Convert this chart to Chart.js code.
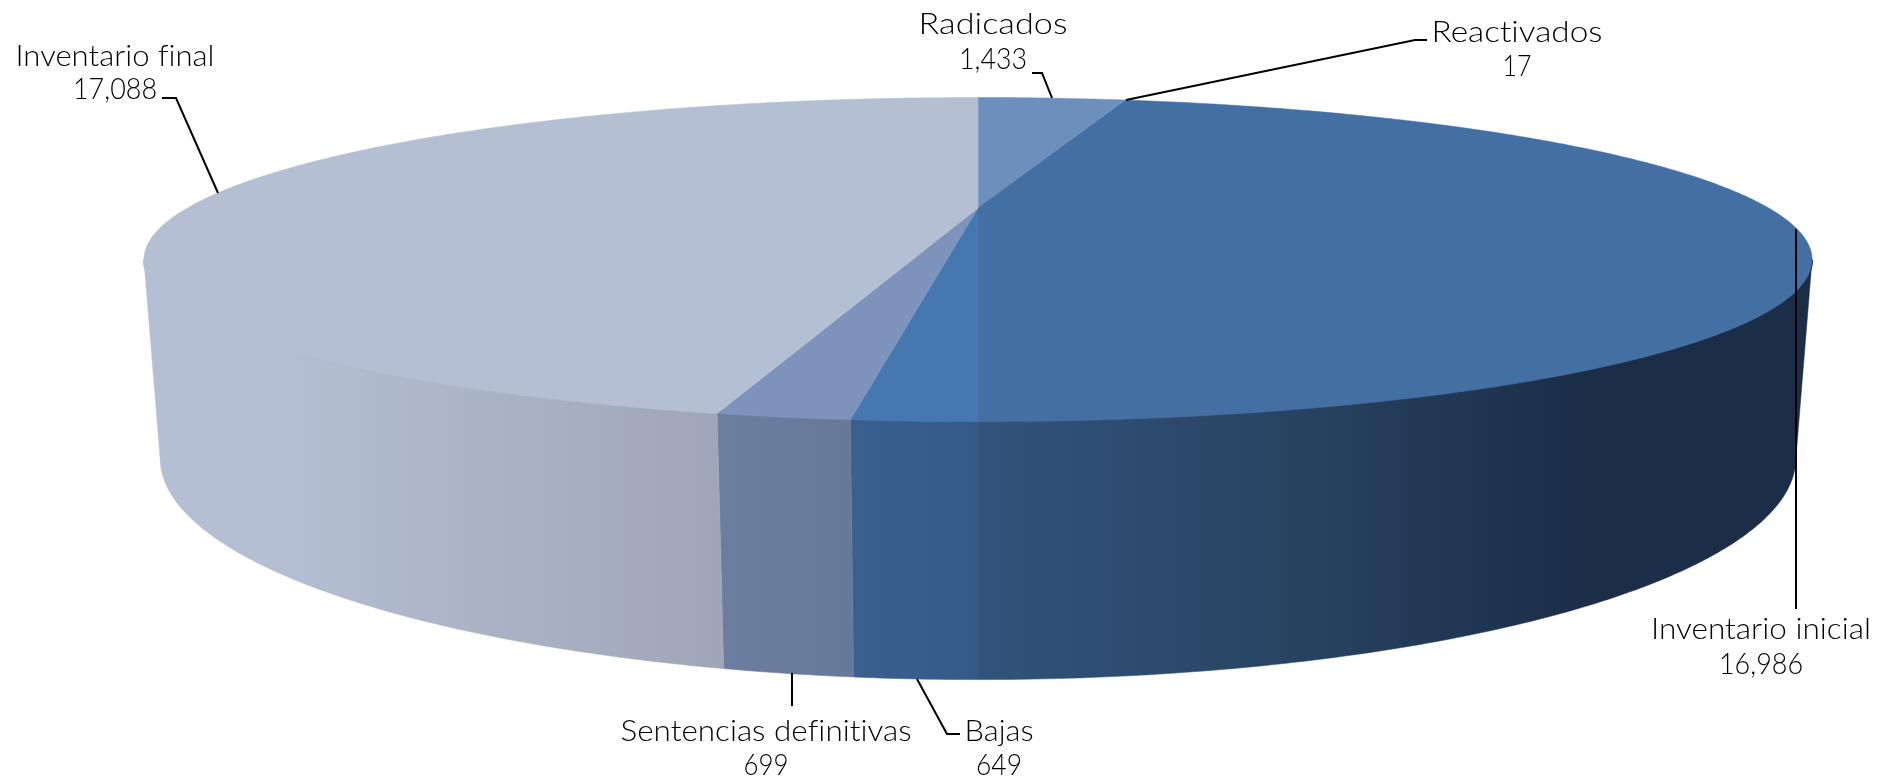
<!DOCTYPE html>
<html>
<head>
<meta charset="utf-8">
<title>Inventario</title>
<script src="https://cdn.jsdelivr.net/npm/chart.js@4"></script>
<style>
	html, body { margin: 0; padding: 0; background: #fff; }
	canvas { display: block; }
</style>
</head>
<body>
<canvas id="pie3d" width="1886" height="779"></canvas>
<script>
// slices, clockwise from the top of the pie
var categories = ["Radicados", "Reactivados", "Inventario inicial", "Bajas", "Sentencias definitivas", "Inventario final"];
var values = [1433, 17, 16986, 649, 699, 17088];
var valueLabels = ["1,433", "17", "16,986", "649", "699", "17,088"];

var topColors = ["#6C90BB", "#6C90BB", "#446FA3", "#4677B0", "#7D93BB", "#B5BFD3"];
// side wall gradient, [x pixel, colour]
var sideStops = [
	[[0, "#6C90BB"]],
	[[0, "#6C90BB"]],
	[[978, "#31537B"], [1250, "#2A4666"], [1590, "#1B2D47"]],
	[[852, "#3A6090"], [978, "#365A88"]],
	[[720, "#6C7EA0"], [852, "#677999"]],
	[[270, "#B5BFD3"], [720, "#9FA6B8"]]
];

// where each label sits: centre x, first baseline, text widths, then the leader polyline
var labelX = [993, 1517, 1761, 999, 766, 115];
var labelY = [34, 42, 639, 741, 741, 66];
var valueY = [69, 76, 674, 775, 775, 99];
var nameWidths = [149, 171, 220, 69, 291, 199];
var valueWidths = [68, 29, 84, 46, 45, 84];
var leaders = [
	[[1032, 73], [1042, 73], [1052, 98]],
	[[1427, 40], [1415, 40], [1126, 100]],
	[[1796, 229], [1796, 609]],
	[[917, 679], [947, 734], [960, 734]],
	[[792, 673], [792, 706]],
	[[162, 98], [176, 98], [218, 193]]
];

// perspective of the disc, fitted to the picture
var view = { cx: 978, cy: 208, a: 790.7, b: 145.7, k: 0.3183, drop: 0.0179, vanishY: 10500 };
var fontName = "300 29px Lato";

// theta is clockwise from the far point of the disc, r is 0..1, low = bottom disc
function project(theta, r, low) {
	var u = Math.sin(theta) * r;
	var v = Math.cos(theta) * r;
	var w = 1 + view.k * v;
	var yh = view.cy * w - view.b * v;
	var s = low ? view.drop : 0;
	return { x: view.cx + view.a * u / (w + s), y: (yh + s * view.vanishY) / (w + s) };
}

function rimPath(ctx, from, to, low) {
	var steps = Math.max(2, Math.ceil(Math.abs(to - from) / 0.01));
	for (var i = 0; i <= steps; i++) {
		var p = project(from + (to - from) * i / steps, 1, low);
		ctx.lineTo(p.x, p.y);
	}
}

function fitText(ctx, text, x, y, width) {
	var natural = ctx.measureText(text).width;
	ctx.save();
	ctx.translate(x, y);
	ctx.scale(width / natural, 1);
	ctx.fillText(text, 0, 0);
	ctx.restore();
}

var pie3dPlugin = {
	id: "pie3d",
	beforeDatasetDraw: function(chart, args) {
		var ctx = chart.ctx;
		var arcs = chart.getDatasetMeta(args.index).data;
		var tangent = Math.PI / 2 + Math.asin(view.k);

		// side walls first, only the part facing the viewer
		ctx.save();
		arcs.forEach(function(arc, i) {
			var a = arc.startAngle + Math.PI / 2;
			var b = arc.endAngle + Math.PI / 2;
			var from = Math.max(a, tangent);
			var to = Math.min(b, Math.PI * 2 - tangent);
			if (to <= from) return;

			var stops = sideStops[i];
			var x0 = stops[0][0];
			var x1 = stops[stops.length - 1][0];
			var grad = ctx.createLinearGradient(x0, 0, x1 > x0 ? x1 : x0 + 1, 0);
			stops.forEach(function(st) {
				grad.addColorStop(x1 > x0 ? (st[0] - x0) / (x1 - x0) : 0, st[1]);
			});

			ctx.beginPath();
			rimPath(ctx, from, to, false);
			rimPath(ctx, to, from, true);
			ctx.closePath();
			ctx.fillStyle = grad;
			ctx.fill();
			ctx.strokeStyle = grad;
			ctx.lineWidth = 0.5;
			ctx.stroke();

			// wider stroke under the top face so no pale seam shows along the rim
			ctx.beginPath();
			rimPath(ctx, from, to, false);
			ctx.lineWidth = 2;
			ctx.stroke();
		});

		// top face
		arcs.forEach(function(arc, i) {
			var a = arc.startAngle + Math.PI / 2;
			var b = arc.endAngle + Math.PI / 2;
			var c = project(0, 0, false);
			ctx.beginPath();
			ctx.moveTo(c.x, c.y);
			rimPath(ctx, a, b, false);
			ctx.closePath();
			ctx.fillStyle = topColors[i];
			ctx.fill();
			ctx.strokeStyle = topColors[i];
			ctx.lineWidth = 0.5;
			ctx.stroke();
		});
		ctx.restore();
		return false;
	},
	afterDatasetsDraw: function(chart) {
		var ctx = chart.ctx;
		ctx.save();
		ctx.strokeStyle = "#000";
		ctx.lineWidth = 2;
		leaders.forEach(function(line) {
			ctx.beginPath();
			line.forEach(function(p, i) {
				if (i == 0) ctx.moveTo(p[0], p[1]);
				else ctx.lineTo(p[0], p[1]);
			});
			ctx.stroke();
		});

		ctx.fillStyle = "#000";
		ctx.font = fontName;
		ctx.letterSpacing = "0.01px"; // keeps Lato from joining ti and fi
		ctx.textAlign = "center";
		ctx.textBaseline = "alphabetic";
		categories.forEach(function(name, i) {
			fitText(ctx, name, labelX[i], labelY[i], nameWidths[i]);
			fitText(ctx, valueLabels[i], labelX[i], valueY[i], valueWidths[i]);
		});
		ctx.restore();
	}
};

Chart.defaults.font.family = "Lato";

var pie3d = new Chart(document.getElementById("pie3d"), {
	type: "pie",
	data: {
		labels: categories,
		datasets: [{ data: values, backgroundColor: topColors, borderWidth: 0 }]
	},
	options: {
		responsive: false,
		devicePixelRatio: 1,
		animation: false,
		rotation: 0,
		plugins: { legend: { display: false }, tooltip: { enabled: false } }
	},
	plugins: [pie3dPlugin]
});
</script>
</body>
</html>
